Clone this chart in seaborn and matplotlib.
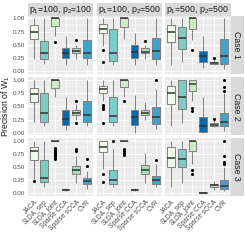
import pandas as pd
import matplotlib.pyplot as plt
import seaborn as sns
from matplotlib.ticker import FixedLocator

# Methods and fill colours (GnBu)
methods = ["JACA", "SLDA_sep", "SLDA_joint", "Sparse CCA", "Sparse sCCA", "CVR"]
colors = ["#f0f9e8", "#7bccc4", "#ccebc5", "#0868ac", "#a8ddb5", "#43a2ca"]
settings = ["p$_1$=100, p$_2$=100", "p$_1$=100, p$_2$=500", "p$_1$=500, p$_2$=500"]
cases = ["Case 1", "Case 2", "Case 3"]

# Box summaries: (lower whisker, Q1, median, Q3, upper whisker)
# one row per method, plus the outlying points of each box
case1_a = [(0.22, 0.60, 0.75, 0.88, 1.00), (0.13, 0.22, 0.34, 0.57, 1.00), (0.67, 0.85, 1.00, 1.00, 1.00),
           (0.11, 0.24, 0.35, 0.44, 0.67), (0.23, 0.34, 0.38, 0.43, 0.50), (0.11, 0.25, 0.35, 0.58, 1.00)]
case1_a_out = [[], [], [0.55], [], [0.58], []]
case1_b = [(0.48, 0.72, 0.80, 0.89, 1.00), (0.12, 0.20, 0.35, 0.80, 1.00), (0.61, 0.84, 1.00, 1.00, 1.00),
           (0.11, 0.25, 0.37, 0.50, 0.72), (0.23, 0.34, 0.37, 0.43, 0.50), (0.11, 0.22, 0.38, 0.62, 1.00)]
case1_b_out = [[0.40, 0.18], [], [], [], [0.57], []]
case1_c = [(0.11, 0.55, 0.75, 0.88, 1.00), (0.17, 0.42, 0.62, 0.83, 1.00), (0.58, 0.80, 1.00, 1.00, 1.00),
           (0.06, 0.17, 0.29, 0.38, 0.67), (0.12, 0.14, 0.16, 0.18, 0.22), (0.04, 0.14, 0.29, 0.61, 1.00)]
case1_c_out = [[], [], [0.40], [], [0.25], []]

case2_a = [(0.20, 0.58, 0.73, 0.85, 1.00), (0.12, 0.21, 0.37, 0.76, 1.00), (0.67, 0.85, 1.00, 1.00, 1.00),
           (0.05, 0.14, 0.27, 0.44, 0.67), (0.25, 0.34, 0.38, 0.43, 0.54), (0.12, 0.21, 0.33, 0.61, 1.00)]
case2_a_out = [[], [], [], [], [0.60, 0.18], []]
case2_b = [(0.60, 0.75, 0.83, 0.89, 1.00), (0.12, 0.21, 0.32, 0.67, 1.00), (0.67, 0.86, 1.00, 1.00, 1.00),
           (0.00, 0.15, 0.29, 0.43, 0.72), (0.25, 0.33, 0.37, 0.44, 0.59), (0.08, 0.17, 0.29, 0.49, 0.83)]
case2_b_out = [[0.52, 0.49, 0.46, 0.18], [], [0.60], [], [], [1.00]]
case2_c = [(0.12, 0.55, 0.75, 0.88, 1.00), (0.18, 0.46, 0.67, 1.00, 1.00), (0.60, 0.80, 0.92, 1.00, 1.00),
           (0.00, 0.02, 0.12, 0.30, 0.67), (0.10, 0.13, 0.15, 0.18, 0.24), (0.04, 0.12, 0.21, 0.38, 0.75)]
case2_c_out = [[], [], [0.47, 0.42], [], [0.26], [0.80, 0.86, 1.00]]

case3_a = [(0.27, 0.63, 0.80, 0.88, 1.00), (0.13, 0.21, 0.29, 0.63, 1.00), (1.00, 1.00, 1.00, 1.00, 1.00),
           (0.05, 0.06, 0.07, 0.09, 0.11), (0.20, 0.37, 0.44, 0.51, 0.70), (0.09, 0.17, 0.24, 0.30, 0.43)]
case3_a_out = [[0.24], [], [0.86, 0.83, 0.80, 0.78, 0.76, 0.74, 0.72, 0.70, 0.68, 0.66],
               [], [0.80, 0.84], [0.51, 0.66]]
case3_b = [(0.47, 0.78, 0.88, 1.00, 1.00), (0.13, 0.17, 0.25, 0.45, 0.85), (1.00, 1.00, 1.00, 1.00, 1.00),
           (0.05, 0.06, 0.07, 0.09, 0.10), (0.20, 0.36, 0.44, 0.53, 0.77), (0.12, 0.17, 0.25, 0.33, 0.55)]
case3_b_out = [[0.36, 0.21], [1.00], [0.85, 0.81, 0.77, 0.73], [], [], [0.63]]
case3_c = [(0.12, 0.50, 0.67, 0.87, 1.00), (0.20, 0.50, 0.65, 0.85, 1.00), (0.55, 0.80, 1.00, 1.00, 1.00),
           (0.00, 0.01, 0.01, 0.02, 0.03), (0.07, 0.12, 0.15, 0.18, 0.24), (0.04, 0.08, 0.14, 0.26, 0.50)]
case3_c_out = [[], [], [0.45, 0.37], [], [], [0.55, 0.60, 0.70, 1.00]]

panels = [[(case1_a, case1_a_out), (case1_b, case1_b_out), (case1_c, case1_c_out)],
          [(case2_a, case2_a_out), (case2_b, case2_b_out), (case2_c, case2_c_out)],
          [(case3_a, case3_a_out), (case3_b, case3_b_out), (case3_c, case3_c_out)]]


def box_values(stats, outliers):
    # observations whose quartiles / whiskers reproduce the read-off summary
    lo, q1, med, q3, hi = stats
    below = [lo] + [o for o in outliers if o < q1]
    above = [hi] + [o for o in outliers if o > q3]
    k = max(len(below), len(above))
    below += [lo] * (k - len(below))
    above += [hi] * (k - len(above))
    return below + [q1] + [med] * (2 * k - 1) + [q3] + above


rows = []
for i, case in enumerate(cases):
    for j, setting in enumerate(settings):
        box, out = panels[i][j]
        for m, s, o in zip(methods, box, out):
            for v in box_values(s, o):
                rows.append((case, setting, m, v))
df = pd.DataFrame(rows, columns=["case", "setting", "method", "value"])

sns.set_theme(style="darkgrid", rc={"axes.facecolor": "#ebebeb", "grid.color": "white"})
plt.rcParams["font.family"] = ["Liberation Sans", "DejaVu Sans"]
plt.rcParams["mathtext.fontset"] = "custom"
plt.rcParams["mathtext.rm"] = "Liberation Sans"
plt.rcParams["mathtext.it"] = "Liberation Sans:italic"

W = 245.0
fig = plt.figure(figsize=(2.45, 2.45), dpi=100)
col_left = [27.5, 96.5, 165.0]
row_top = [15.7, 77.4, 138.0]
pw, ph = 65.5, 58.0
palette = dict(zip(methods, colors))


def rect(x, y, w, h):
    return [x / W, 1 - (y + h) / W, w / W, h / W]


def strip(x, y, w, h, label, rotation=0):
    sax = fig.add_axes(rect(x, y, w, h))
    sax.set_facecolor("#d9d9d9")
    sax.set_xticks([])
    sax.set_yticks([])
    sax.grid(False)
    for sp in sax.spines.values():
        sp.set_visible(False)
    sax.text(0.5, 0.45 if rotation == 0 else 0.5, label, ha="center", va="center",
             rotation=rotation, fontsize=6.3, color="#1a1a1a")


for i, case in enumerate(cases):
    for j, setting in enumerate(settings):
        ax = fig.add_axes(rect(col_left[j], row_top[i], pw, ph))
        sub = df[(df["case"] == case) & (df["setting"] == setting)]
        sns.boxplot(data=sub, x="method", y="value", hue="method", order=methods,
                    hue_order=methods, palette=palette, saturation=1, width=0.75,
                    linewidth=0.7, linecolor="#808080", fliersize=1.2, showcaps=False,
                    flierprops=dict(marker="o", markerfacecolor="black", markeredgecolor="black"),
                    medianprops=dict(color="#333333", linewidth=1.1),
                    legend=False, ax=ax)
        ax.set_xlim(-0.6, 5.6)
        ax.set_ylim(-0.05, 1.05)
        ax.set_yticks([0, 0.25, 0.5, 0.75, 1.0])
        ax.yaxis.set_minor_locator(FixedLocator([0.125, 0.375, 0.625, 0.875]))
        ax.set_axisbelow(True)
        ax.grid(True, which="major", color="white", linewidth=0.6)
        ax.grid(True, which="minor", axis="y", color="white", linewidth=0.3)
        ax.set_xlabel("")
        ax.set_ylabel("")
        for sp in ax.spines.values():
            sp.set_visible(False)
        ax.tick_params(which="both", length=1.5, width=0.5, color="#333333",
                       labelsize=4.5, labelcolor="#4d4d4d", pad=0.6)
        ax.tick_params(which="minor", length=0)
        if j == 0:
            ax.set_yticklabels(["0.00", "0.25", "0.50", "0.75", "1.00"])
        else:
            ax.tick_params(left=False, labelleft=False)
        if i < 2:
            ax.tick_params(bottom=False, labelbottom=False)
        else:
            ax.set_xticks(range(len(methods)))
            ax.set_xticklabels(methods, rotation=45, ha="right", rotation_mode="anchor",
                               fontsize=4.8)
        if i == 0:
            strip(col_left[j], row_top[0] - 12.5, pw, 12.5, setting)
    strip(col_left[2] + pw, row_top[i], 13, ph, case, rotation=-90)

fig.text(6 / W, 1 - 106 / W, "Precision of W$_1$", rotation=90, ha="center", va="center",
         fontsize=6.3, color="#1a1a1a")

plt.savefig("out.png", dpi=100)
